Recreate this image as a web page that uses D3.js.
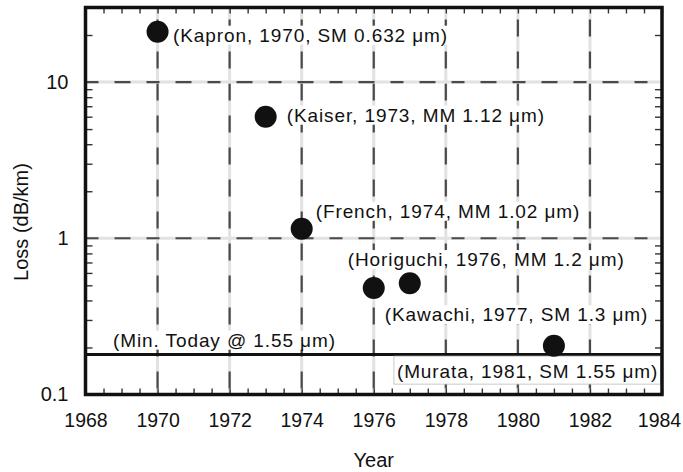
<!DOCTYPE html>
<html>
<head>
<meta charset="utf-8">
<script src="https://cdn.jsdelivr.net/npm/d3@7"></script>
<style>
  html, body { margin: 0; padding: 0; background: #fff; }
  svg { display: block; }
  text { font-family: "Liberation Sans", Arial, Helvetica, sans-serif; fill: #111; }
</style>
</head>
<body>
<svg id="chart" width="683" height="472"></svg>
<script>
// ---- data ----
const years  = [1970, 1973, 1974, 1976, 1977, 1981];
const losses = [21, 6, 1.15, 0.48, 0.515, 0.205];
const labels = [
  "(Kapron, 1970, SM 0.632 \u03bcm)",
  "(Kaiser, 1973, MM 1.12 \u03bcm)",
  "(French, 1974, MM 1.02 \u03bcm)",
  "(Horiguchi, 1976, MM 1.2 \u03bcm)",
  "(Kawachi, 1977, SM 1.3 \u03bcm)",
  "(Murata, 1981, SM 1.55 \u03bcm)"
];
const minTodayLoss = 0.18;
const minTodayLabel = "(Min. Today @ 1.55 \u03bcm)";
const xTickValues = [1968, 1970, 1972, 1974, 1976, 1978, 1980, 1982, 1984];
const yTickValues = [0.1, 1, 10];
const yTickLabels = ["0.1", "1", "10"];
const xGridValues = [1970, 1972, 1974, 1976, 1978, 1980, 1982];
const yGridValues = [1, 10];

// ---- layout ----
const M = { left: 85.5, right: 662, top: 7.5, bottom: 394.5 };
const labelOffsets = [[15.5, 10], [21, 5], [14, -11], [-26, -22], [-25, 38], [-157, 32]];

const svg = d3.select("#chart");
const x = d3.scaleLinear().domain([1968, 1984]).range([M.left, M.right]);
const y = d3.scaleLog().domain([0.1, 30]).range([M.bottom, M.top]);

// grid: light solid + dark dashes
const grid = svg.append("g");
xGridValues.forEach(v => {
  grid.append("line").attr("x1", x(v)).attr("x2", x(v)).attr("y1", M.top).attr("y2", M.bottom)
    .attr("stroke", "#e2e2e2").attr("stroke-width", 3);
  grid.append("line").attr("x1", x(v)).attr("x2", x(v)).attr("y1", M.top + 12).attr("y2", M.bottom)
    .attr("stroke", "#4a4a4a").attr("stroke-width", 2.2).attr("stroke-dasharray", "17,15");
});
yGridValues.forEach(v => {
  grid.append("line").attr("x1", M.left).attr("x2", M.right).attr("y1", y(v)).attr("y2", y(v))
    .attr("stroke", "#e2e2e2").attr("stroke-width", 3);
  grid.append("line").attr("x1", M.left).attr("x2", M.right).attr("y1", y(v)).attr("y2", y(v))
    .attr("stroke", "#4a4a4a").attr("stroke-width", 2.2).attr("stroke-dasharray", "13,16,16,16");
});

// minor ticks via axes (inward)
const xMinor = d3.range(1968, 1984.01, 0.5);
const yMinor = [];
[0.1, 1, 10].forEach(d => { for (let k = 2; k <= 9; k++) { const v = d * k; if (v <= 30) yMinor.push(v); } });

function styleTicks(g) {
  g.select(".domain").remove();
  g.selectAll(".tick line").attr("stroke", "#333").attr("stroke-width", 1.4);
  g.selectAll(".tick text").remove();
}
svg.append("g").attr("transform", `translate(0,${M.bottom})`)
  .call(d3.axisTop(x).tickValues(xMinor).tickSize(6).tickFormat("")).call(styleTicks);
svg.append("g").attr("transform", `translate(0,${M.top})`)
  .call(d3.axisBottom(x).tickValues(xMinor).tickSize(6).tickFormat("")).call(styleTicks);
svg.append("g").attr("transform", `translate(${M.left},0)`)
  .call(d3.axisRight(y).tickValues(yMinor).tickSize(7).tickFormat("")).call(styleTicks);
svg.append("g").attr("transform", `translate(${M.right},0)`)
  .call(d3.axisLeft(y).tickValues(yMinor).tickSize(7).tickFormat("")).call(styleTicks);

// tick labels
const xAxis = svg.append("g").attr("transform", `translate(0,${M.bottom})`)
  .call(d3.axisBottom(x).tickValues(xTickValues).tickSize(0).tickPadding(19).tickFormat(d3.format("d")));
xAxis.select(".domain").remove();
xAxis.selectAll("text").attr("font-size", 19.5).attr("fill", "#111")
  .attr("dx", d => d === 1984 ? -3 : 0);

const yAxis = svg.append("g").attr("transform", `translate(${M.left},0)`)
  .call(d3.axisLeft(y).tickValues(yTickValues).tickSize(0).tickPadding(17)
    .tickFormat((d, i) => yTickLabels[i]));
yAxis.select(".domain").remove();
yAxis.selectAll("text").attr("font-size", 20).attr("fill", "#111");

// axis titles
svg.append("text").attr("x", (M.left + M.right) / 2).attr("y", 467).attr("text-anchor", "middle")
  .attr("font-size", 20).text("Year");
svg.append("text").attr("transform", "translate(28,222) rotate(-90)").attr("text-anchor", "middle")
  .attr("font-size", 20).text("Loss (dB/km)");

// min today line
svg.append("line").attr("x1", M.left).attr("x2", M.right)
  .attr("y1", y(minTodayLoss)).attr("y2", y(minTodayLoss))
  .attr("stroke", "#111").attr("stroke-width", 3);

const annFont = 19, annLS = 0.9;
const pts = years.map((yr, i) => ({ yr, v: losses[i], label: labels[i], off: labelOffsets[i] }));

// Murata box (white, covering grid below the min line)
const mi = pts.length - 1;
const boxX = x(pts[mi].yr) + pts[mi].off[0] - 3;
svg.append("rect")
  .attr("x", boxX)
  .attr("y", y(minTodayLoss) + 1.5)
  .attr("width", M.right - boxX - 1.5)
  .attr("height", 28)
  .attr("fill", "#fff").attr("stroke", "#bbb").attr("stroke-width", 0.8);

// label backgrounds + labels
const bgG = svg.append("g");
const txG = svg.append("g");
function addLabel(tx, ty, s) {
  const t = txG.append("text").attr("x", tx).attr("y", ty)
    .attr("font-size", annFont).attr("letter-spacing", annLS).text(s);
  const b = t.node().getBBox();
  bgG.append("rect").attr("x", b.x - 1).attr("y", b.y + 1).attr("width", b.width + 1).attr("height", b.height - 2)
    .attr("fill", "#fff");
}
pts.slice(0, mi).forEach(d => addLabel(x(d.yr) + d.off[0], y(d.v) + d.off[1], d.label));
addLabel(113, y(minTodayLoss) - 8, minTodayLabel);
txG.append("text").attr("x", x(pts[mi].yr) + pts[mi].off[0]).attr("y", y(pts[mi].v) + pts[mi].off[1])
  .attr("font-size", annFont).attr("letter-spacing", annLS).text(pts[mi].label);

// points
svg.append("g").selectAll("circle").data(pts).join("circle")
  .attr("cx", d => x(d.yr)).attr("cy", d => y(d.v)).attr("r", 11)
  .attr("fill", "#111");

// frame
svg.append("rect").attr("x", M.left).attr("y", M.top)
  .attr("width", M.right - M.left).attr("height", M.bottom - M.top)
  .attr("fill", "none").attr("stroke", "#111").attr("stroke-width", 3.5);
</script>
</body>
</html>
